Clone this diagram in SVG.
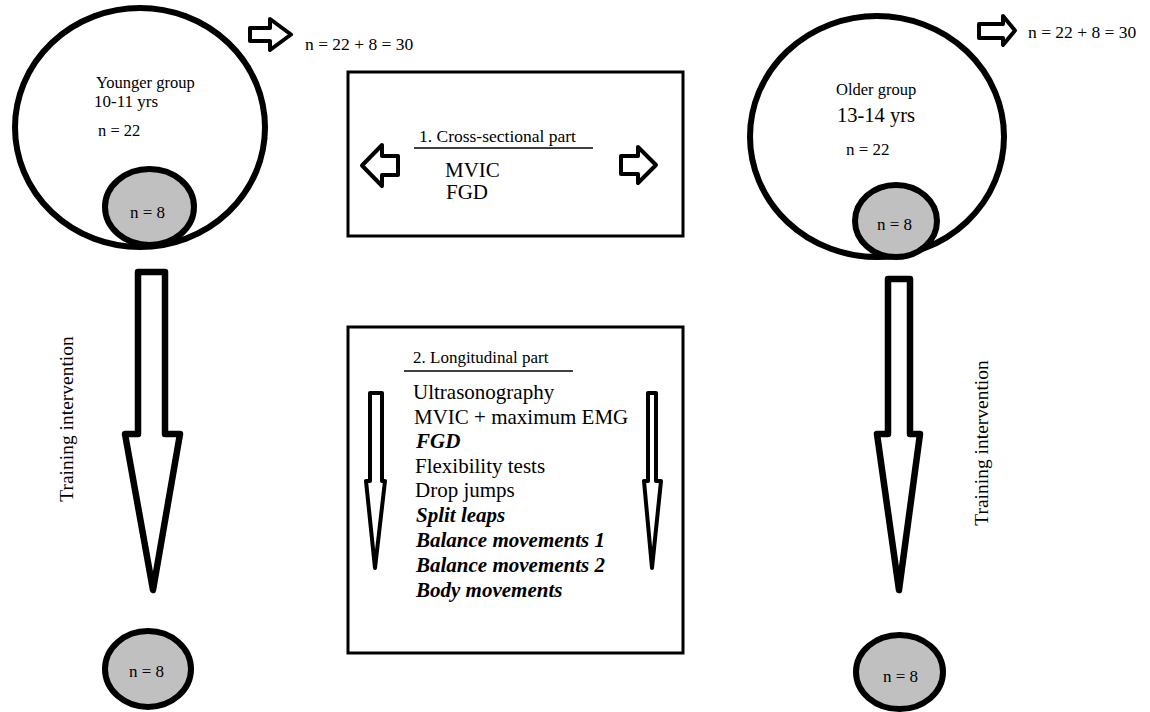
<svg xmlns="http://www.w3.org/2000/svg" width="1150" height="712" viewBox="0 0 1150 712">
<style>
  .t { font-family: "Liberation Serif", serif; fill: #000; }
  .bi { font-weight: bold; font-style: italic; }
  .big { fill: #fff; stroke: #000; stroke-width: 6; }
  .small { fill: #c0c0c0; stroke: #000; stroke-width: 6; }
  .box { fill: #fff; stroke: #000; stroke-width: 3; }
  .rule { stroke: #000; stroke-width: 1.5; }
  .arr { fill: #fff; stroke: #000; stroke-width: 4; stroke-linejoin: round; }
  .barr { fill: #fff; stroke: #000; stroke-width: 6.5; stroke-linejoin: round; }
</style>
<rect width="1150" height="712" fill="#fff"/>

<g id="younger-group">
  <ellipse class="big" cx="140" cy="127.5" rx="125" ry="119.5"/>
  <ellipse class="small" cx="149.5" cy="207" rx="44.5" ry="38"/>
  <text class="t" x="96" y="88" font-size="16.5">Younger group</text>
  <text class="t" x="94" y="107" font-size="17">10-11 yrs</text>
  <text class="t" x="98" y="136" font-size="16.5">n = 22</text>
  <text class="t" x="130" y="218" font-size="17">n = 8</text>
</g>

<g id="younger-total">
  <path class="arr" d="M250,28 L270,28 L270,19 L291,34.5 L270,50 L270,41 L250,41 Z"/>
  <text class="t" x="305" y="50" font-size="17.5">n = 22 + 8 = 30</text>
</g>

<g id="older-group">
  <ellipse class="big" cx="877" cy="136.5" rx="127" ry="120.5"/>
  <ellipse class="small" cx="896" cy="221" rx="41" ry="36"/>
  <text class="t" x="836" y="95" font-size="16.5">Older group</text>
  <text class="t" x="837" y="122" font-size="20.5">13-14 yrs</text>
  <text class="t" x="846" y="155" font-size="17">n = 22</text>
  <text class="t" x="877" y="230" font-size="17">n = 8</text>
</g>

<g id="older-total">
  <path class="arr" d="M979,24 L1003,24 L1003,16 L1015,30.5 L1003,45 L1003,38 L979,38 Z"/>
  <text class="t" x="1028" y="38" font-size="17.5">n = 22 + 8 = 30</text>
</g>

<g id="cross-sectional">
  <rect class="box" x="348" y="72" width="335" height="164"/>
  <text class="t" x="419" y="142" font-size="17.5">1. Cross-sectional part</text>
  <line class="rule" x1="414" y1="148" x2="593" y2="148"/>
  <text class="t" x="445" y="177" font-size="21">MVIC</text>
  <text class="t" x="446" y="199" font-size="21">FGD</text>
  <path class="arr" d="M362,165.5 L382,145 L382,156 L398,156 L398,175 L382,175 L382,186 Z"/>
  <path class="arr" d="M621,156 L638,156 L638,147 L656,165 L638,183 L638,174 L621,174 Z"/>
</g>

<g id="longitudinal">
  <rect class="box" x="348" y="327" width="335" height="326"/>
  <text class="t" x="413" y="363" font-size="17">2. Longitudinal part</text>
  <line class="rule" x1="404" y1="371" x2="573" y2="371"/>
  <text class="t" x="413" y="399" font-size="21">Ultrasonography</text>
  <text class="t" x="414" y="424" font-size="21">MVIC + maximum EMG</text>
  <text class="t bi" x="416" y="448" font-size="21">FGD</text>
  <text class="t" x="415" y="473" font-size="21">Flexibility tests</text>
  <text class="t" x="415" y="497" font-size="21">Drop jumps</text>
  <text class="t bi" x="416" y="522" font-size="21">Split leaps</text>
  <text class="t bi" x="416" y="547" font-size="21">Balance movements 1</text>
  <text class="t bi" x="416" y="572" font-size="21">Balance movements 2</text>
  <text class="t bi" x="416" y="597" font-size="21">Body movements</text>
  <path class="arr" d="M370,393 L382,393 L382,481 L385,481 L375,568 L366,481 L370,481 Z"/>
  <path class="arr" d="M648,393 L656,393 L656,481 L661,481 L652,568 L644,481 L648,481 Z"/>
</g>

<g id="connectors">
  <path class="barr" d="M138,272 L165,272 L165,434 L180,434 L153,590 L125,434 L138,434 Z"/>
  <path class="barr" d="M888,279 L910,279 L910,434 L920,434 L899,590 L877,434 L888,434 Z"/>
  <text class="t" transform="translate(73,419) rotate(-90)" text-anchor="middle" font-size="19.5">Training intervention</text>
  <text class="t" transform="translate(988,443) rotate(-90)" text-anchor="middle" font-size="19.5">Training intervention</text>
</g>

<g id="younger-post">
  <ellipse class="small" cx="148" cy="669" rx="43" ry="38"/>
  <text class="t" x="129" y="677" font-size="17">n = 8</text>
</g>

<g id="older-post">
  <ellipse class="small" cx="899.5" cy="672" rx="43.5" ry="37"/>
  <text class="t" x="883" y="682" font-size="17">n = 8</text>
</g>
</svg>
